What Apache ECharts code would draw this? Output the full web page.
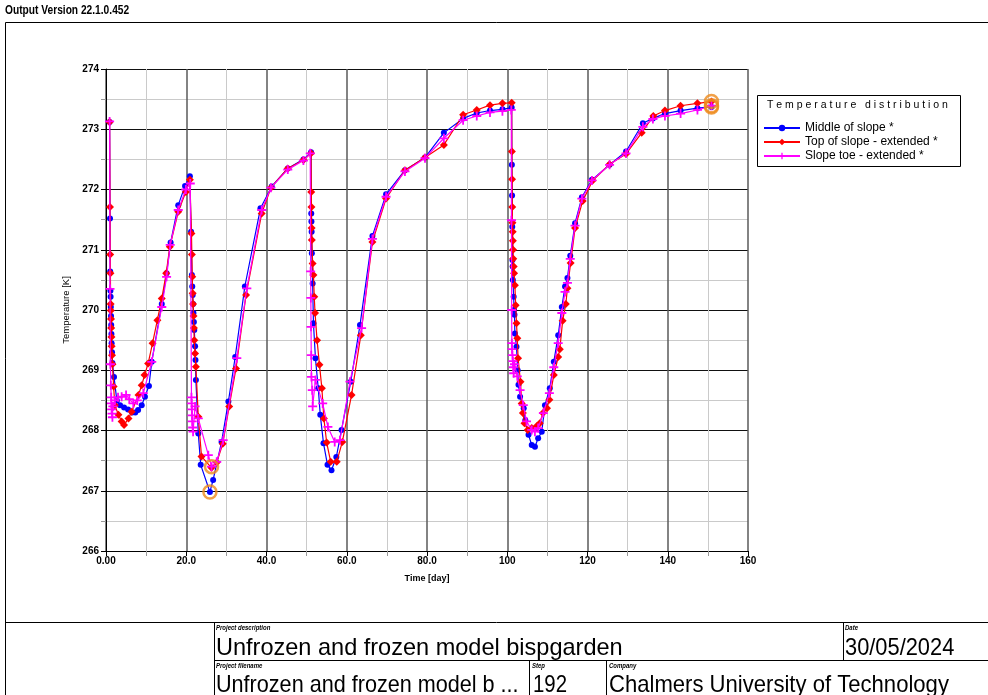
<!DOCTYPE html>
<html><head><meta charset="utf-8">
<script src="https://cdn.jsdelivr.net/npm/echarts@6/dist/echarts.min.js"></script>
<style>html,body{margin:0;padding:0;background:#fff;}#c{width:988px;height:695px;}</style>
</head><body><div id="c"></div>
<script>
// ---------- data ----------
const midTime = [0.9,1.0,1.05,1.1,1.15,1.2,1.25,1.3,1.35,1.4,1.5,1.6,2.0,2.7,3.5,4.5,5.5,6.5,7.3,8.0,8.9,9.7,10.7,11.4,13.9,15.1,16.1,18.0,19.7,20.9,
 21.2,21.4,21.5,21.6,21.7,21.8,21.9,22.0,22.2,22.3,22.4,23.0,23.6,25.9,26.7,28.8,30.5,32.2,34.6,38.5,41.3,45.3,49.2,51.1,
 51.15,51.2,51.25,51.3,51.5,51.7,52.2,52.9,53.4,54.2,55.2,56.2,57.4,58.7,61.0,63.3,66.4,69.8,74.5,79.5,84.2,89.0,92.4,95.7,98.8,101.1,
 101.15,101.2,101.25,101.3,101.35,101.4,101.6,101.7,101.8,101.9,102.3,102.6,102.8,103.2,104.1,104.5,105.3,106.1,106.9,107.7,108.6,109.4,110.6,111.6,112.7,113.6,114.4,115.0,115.7,116.9,118.6,121.1,125.5,129.6,133.8,136.3,139.3,143.2,147.4,150.9];
const midTemp = [273.12,271.52,270.64,270.32,270.22,270.05,269.90,269.75,269.60,269.45,269.30,269.12,268.89,268.50,268.42,268.38,268.35,268.30,268.30,268.34,268.42,268.56,268.74,269.14,270.10,270.61,271.12,271.74,272.06,272.22,
 271.30,270.58,270.39,270.25,270.10,269.95,269.80,269.67,269.40,269.17,268.84,267.95,267.43,266.98,267.18,267.81,268.48,269.22,270.39,271.69,272.05,272.35,272.50,272.62,
 271.60,271.47,271.30,270.94,270.44,269.78,269.20,268.70,268.26,267.79,267.43,267.34,267.56,268.01,268.81,269.75,271.23,271.92,272.32,272.53,272.94,273.18,273.27,273.31,273.33,273.36,
 272.41,271.90,271.38,270.83,270.72,270.50,270.22,270.00,269.92,269.61,269.39,269.00,268.76,268.56,268.37,268.17,267.93,267.76,267.73,267.87,267.98,268.42,268.70,269.14,269.58,270.05,270.39,270.53,270.90,271.44,271.87,272.16,272.41,272.63,273.10,273.18,273.26,273.31,273.35,273.37];

const topTime = [0.9,1.0,1.05,1.1,1.15,1.2,1.25,1.3,1.35,1.4,1.5,1.6,1.9,2.2,3.1,3.9,4.5,5.6,6.4,8.1,8.9,9.6,10.5,11.6,12.8,13.9,15.0,15.9,18.0,19.9,20.9,
 21.3,21.4,21.5,21.6,21.7,21.8,21.9,22.0,22.2,22.4,23.0,23.8,26.3,27.6,29.1,30.7,32.4,34.9,38.8,41.1,45.3,49.2,51.1,
 51.15,51.2,51.25,51.3,51.5,51.7,51.9,52.1,52.6,53.2,53.8,54.3,55.0,56.0,57.5,58.9,61.2,63.5,66.4,69.8,74.5,79.5,84.2,89.0,92.4,95.7,98.8,101.1,
 101.15,101.2,101.25,101.3,101.35,101.4,101.45,101.5,101.6,101.7,101.9,102.1,102.3,102.5,102.7,103.3,103.6,103.9,104.3,105.1,106.1,107.3,108.1,108.9,109.9,110.5,111.6,112.7,113.1,113.8,114.6,115.0,115.8,116.9,118.8,121.3,125.5,129.6,133.5,136.4,139.3,143.2,147.4,150.9];
const topTemp = [273.12,271.71,270.92,270.61,270.10,269.99,269.85,269.70,269.55,269.40,269.25,269.10,268.73,268.42,268.26,268.15,268.09,268.20,268.31,268.59,268.75,268.92,269.11,269.45,269.83,270.19,270.61,271.05,271.63,271.96,272.16,
 271.27,270.92,270.55,270.28,270.10,269.90,269.70,269.50,269.28,269.06,268.23,267.57,267.38,267.47,267.78,268.40,269.03,270.25,271.60,272.03,272.35,272.49,272.60,
 271.96,271.71,271.36,271.16,270.77,270.58,270.22,269.95,269.50,269.09,268.70,268.20,267.80,267.48,267.48,267.81,268.59,269.58,271.13,271.85,272.32,272.53,272.74,273.24,273.32,273.40,273.43,273.44,
 272.63,272.17,271.71,271.45,271.30,271.15,271.00,270.85,270.72,270.61,270.41,270.08,269.78,269.53,269.20,268.81,268.45,268.29,268.12,268.01,268.04,268.07,268.12,268.29,268.37,268.51,268.92,269.22,269.35,269.82,270.10,270.36,270.78,271.36,271.81,272.15,272.42,272.59,272.94,273.22,273.31,273.39,273.43,273.46];

const toeTime = [0.9,1.0,1.1,1.2,1.3,1.35,1.4,1.5,1.6,1.7,2.2,3.0,3.9,5.0,5.8,6.8,7.8,9.3,11.4,13.9,15.1,16.0,18.0,19.9,21.0,
 21.3,21.35,21.4,21.45,21.5,21.6,21.7,22.2,23.0,25.5,26.3,27.6,29.2,32.6,35.1,38.8,41.1,45.3,49.2,50.9,
 51.0,51.05,51.1,51.15,51.2,51.4,51.5,52.2,54.0,55.3,57.0,58.3,60.8,63.7,66.4,69.8,74.5,79.5,84.2,89.0,92.4,95.7,98.8,101.0,
 101.05,101.1,101.15,101.2,101.3,101.4,101.5,101.6,101.8,102.5,103.2,104.0,104.8,106.1,106.9,107.7,109.0,110.5,111.6,112.7,113.6,114.4,115.0,115.7,116.9,118.6,121.1,125.5,129.6,133.8,136.3,139.3,143.2,147.4,150.9];
const toeTemp = [273.13,270.35,269.10,268.75,268.55,268.45,268.35,268.28,268.22,268.40,268.50,268.55,268.56,268.59,268.52,268.45,268.50,268.62,269.14,270.05,270.55,271.08,271.66,272.00,272.10,
 268.55,268.45,268.35,268.25,268.15,268.05,267.98,268.40,268.20,267.59,267.40,267.48,267.84,269.20,270.36,271.66,272.03,272.33,272.48,272.60,
 270.64,270.20,269.72,269.25,268.89,268.67,268.40,268.84,268.45,268.06,267.81,267.84,268.81,269.70,271.18,271.88,272.30,272.52,272.85,273.15,273.22,273.28,273.30,273.32,
 271.49,270.00,269.45,269.35,269.25,269.15,269.05,268.95,269.10,268.90,268.67,268.42,268.15,268.01,267.98,268.04,268.29,268.62,269.05,269.45,269.95,270.30,270.45,270.85,271.40,271.85,272.15,272.41,272.60,273.04,273.17,273.22,273.26,273.32,273.39];

const seriesNames = ['Middle of slope *', 'Top of slope - extended *', 'Slope toe - extended *'];
const xTickLabels = ['0.00','20.0','40.0','60.0','80.0','100','120','140','160'];
const yTickLabels = ['266','267','268','269','270','271','272','273','274'];
const legendTitle = 'T e m p e r a t u r e   d i s t r i b u t i o n';
// highlighted (selected) points: [series, time]
const highlightRefs = [['mid', 25.9], ['toe', 26.3], ['mid', 150.9], ['top', 150.9], ['toe', 150.9]];

// ---------- build ----------
const zip = (a, b) => a.map((t, i) => [t, b[i]]);
const src = { mid: [midTime, midTemp], top: [topTime, topTemp], toe: [toeTime, toeTemp] };
const highlightData = highlightRefs.map(([s, t]) => {
  const [tt, vv] = src[s]; const i = tt.indexOf(t); return [tt[i], vv[i]];
});

const SANS = '"Liberation Sans", Arial, sans-serif';
const PLUS = 'path://M4,0h2v4h4v2h-4v4h-2v-4h-4v-2h4z';

const chart = echarts.init(document.getElementById('c'), null, { renderer: 'canvas' });

const axisCommon = {
  type: 'value',
  axisLine: { show: true, onZero: false, lineStyle: { color: '#000', width: 1 } },
  axisTick: { show: true, length: 5, inside: false, lineStyle: { color: '#000' } },
  minorTick: { show: true, splitNumber: 2, length: 5, lineStyle: { color: '#999' } },
  minorSplitLine: { show: true, lineStyle: { color: '#cacaca', width: 1 } },
};

function txt(x, y, text, font, sx) {
  return { type: 'text', x: x, y: y, scaleX: sx || 1, style: { text: text, font: font, fill: '#000', textVerticalAlign: 'top' }, silent: true };
}
function ln(x1, y1, x2, y2) {
  return { type: 'line', shape: { x1: x1, y1: y1, x2: x2, y2: y2 }, style: { stroke: '#000', lineWidth: 1 }, silent: true };
}

chart.setOption({
  animation: false,
  backgroundColor: '#fff',
  grid: { left: 106, right: 240, top: 69, bottom: 144, containLabel: false },
  xAxis: Object.assign({}, axisCommon, {
    min: 0, max: 160, interval: 20,
    name: 'Time [day]', nameLocation: 'middle', nameGap: 23,
    nameTextStyle: { fontFamily: SANS, fontWeight: 'bold', fontSize: 9, color: '#000' },
    splitLine: { show: true, lineStyle: { color: '#5a5a5a', width: 1.5 } },
    axisLabel: { formatter: v => xTickLabels[Math.round(v / 20)], fontFamily: SANS, fontWeight: 'bold', fontSize: 10, color: '#000', margin: 5 }
  }),
  yAxis: Object.assign({}, axisCommon, {
    min: 266, max: 274, interval: 1,
    name: 'Temperature [K]', nameLocation: 'middle', nameGap: 32,
    nameTextStyle: { fontFamily: SANS, fontSize: 9.5, color: '#000' },
    splitLine: { show: true, lineStyle: { color: '#111', width: 1 } },
    axisLabel: { formatter: v => yTickLabels[Math.round(v - 266)], fontFamily: SANS, fontWeight: 'bold', fontSize: 10, color: '#000', margin: 7 }
  }),
  legend: {
    data: seriesNames, orient: 'vertical', left: 763, top: 121,
    itemWidth: 36, itemHeight: 8, itemGap: 0, padding: 0,
    textStyle: { fontFamily: SANS, fontSize: 12, color: '#000', lineHeight: 14 },
    selectedMode: false
  },
  series: [
    { name: seriesNames[0], type: 'line', data: zip(midTime, midTemp), symbol: 'circle', symbolSize: 6,
      itemStyle: { color: '#0000ff' }, lineStyle: { color: '#0000ff', width: 1.2 }, z: 3 },
    { name: seriesNames[1], type: 'line', data: zip(topTime, topTemp), symbol: 'diamond', symbolSize: 8,
      itemStyle: { color: '#ff0000' }, lineStyle: { color: '#ff0000', width: 1.2 }, z: 4 },
    { name: seriesNames[2], type: 'line', data: zip(toeTime, toeTemp), symbol: PLUS, symbolSize: 9,
      itemStyle: { color: '#ff00ff' }, lineStyle: { color: '#ff00ff', width: 1.2 }, z: 5 },
    { name: 'selected', type: 'scatter', data: highlightData, symbol: 'circle', symbolSize: 13,
      itemStyle: { color: 'rgba(0,0,0,0)', borderColor: '#ee8a1c', borderWidth: 2.5 }, z: 6, silent: true }
  ],
  graphic: [
    txt(5, 5, 'Output Version 22.1.0.452', 'bold 12px ' + SANS, 0.85),
    ln(5.5, 22.5, 988, 22.5),
    ln(5.5, 22.5, 5.5, 695),
    ln(5, 622.5, 988, 622.5),
    ln(214.5, 622, 214.5, 695),
    ln(214, 660.5, 988, 660.5),
    ln(843.5, 622, 843.5, 660),
    ln(529.5, 660, 529.5, 695),
    ln(606.5, 660, 606.5, 695),
    txt(216, 624, 'Project description', 'italic bold 8px ' + SANS, 0.75),
    txt(216, 636, 'Unfrozen and frozen model bispgarden', '24px ' + SANS, 0.98),
    txt(845, 624, 'Date', 'italic bold 8px ' + SANS, 0.75),
    txt(845, 636, '30/05/2024', '24px ' + SANS, 0.91),
    txt(216, 662, 'Project filename', 'italic bold 8px ' + SANS, 0.75),
    txt(216, 673, 'Unfrozen and frozen model b ...', '24px ' + SANS, 0.9),
    txt(532, 662, 'Step', 'italic bold 8px ' + SANS, 0.75),
    txt(533, 673, '192', '24px ' + SANS, 0.85),
    txt(609, 662, 'Company', 'italic bold 8px ' + SANS, 0.75),
    txt(609, 673, 'Chalmers University of Technology', '24px ' + SANS, 0.92),
    { type: 'rect', z: -1, shape: { x: 757.5, y: 95.5, width: 203, height: 71 }, style: { fill: '#fff', stroke: '#000', lineWidth: 1 }, silent: true },
    txt(767, 100, legendTitle, '10.5px ' + SANS, 1)
  ]
});
</script>
</body></html>
